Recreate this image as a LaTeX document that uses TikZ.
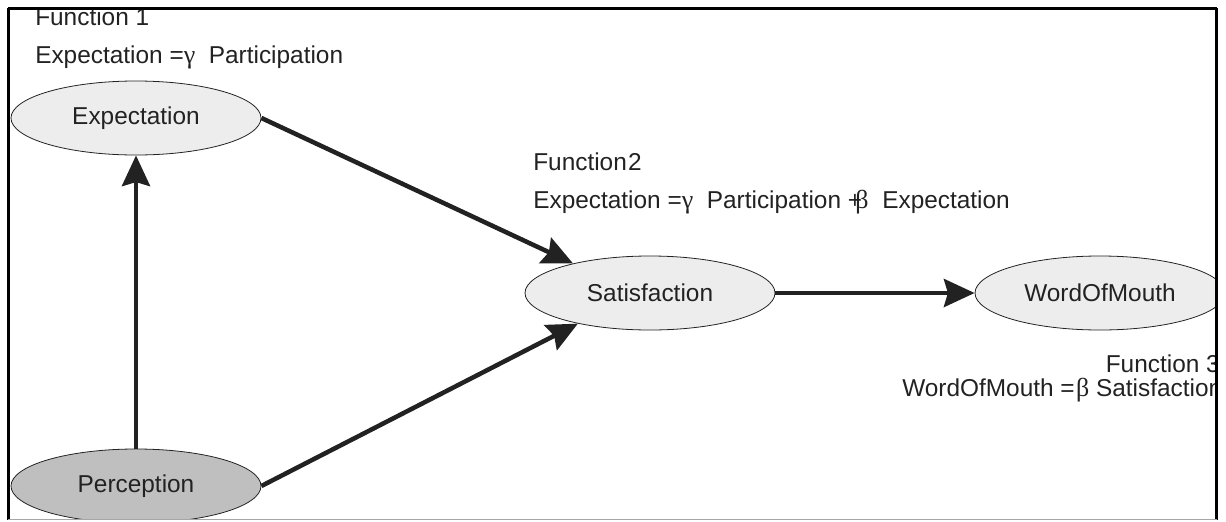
\documentclass[tikz,border=0pt]{standalone}
\usepackage{fontspec}
\setmainfont{Liberation Sans}
\newfontfamily\grk{Liberation Serif}
\usetikzlibrary{shapes.geometric,arrows.meta}
\definecolor{ink}{HTML}{222222}
\definecolor{lightfill}{HTML}{EDEDED}
\definecolor{darkfill}{HTML}{BFBFBF}
\newcommand{\gsym}[1]{{\grk\fontsize{19.5}{22}\selectfont #1}}
\tikzset{
  ell/.style={ellipse, draw=ink, line width=0.6pt, fill=lightfill, minimum width=187.5pt, minimum height=55.5pt, inner sep=0pt, text=ink, font=\fontsize{18.3}{21}\selectfont},
  darkell/.style={ell, fill=darkfill},
  lbl/.style={anchor=base west, inner sep=0pt, text=ink, font=\fontsize{18.3}{21}\selectfont},
  conn/.style={draw=ink, line width=3.4pt, -{Stealth[length=23pt, width=21pt, inset=3pt]}}
}
\begin{document}
\begin{tikzpicture}[x=0.75pt, y=-0.75pt]
\useasboundingbox (0,0) rectangle (1226,521);
\begin{scope}
\clip (8,8) rectangle (1216,519);
\node[ell] (E) at (136,118) {Expectation};
\node[darkell] (P) at (136,486) {Perception};
\node[ell] (S) at (650,293) {Satisfaction};
\node[ell] (W) at (1100,293) {WordOfMouth};

\node[lbl] (f1) at (35,25) {Function 1};
\node[lbl] (f1e) at (35,63) {Expectation =\gsym{γ}\ \ Participation};
\node[lbl] (f2) at (533,170) {Function\kern1pt2};
\node[lbl] (f2e) at (533,208) {Expectation =\gsym{γ}\ \ Participation +\kern-5pt\gsym{β}\ \ Expectation};
\node[anchor=base east, inner sep=0pt, text=ink, font=\fontsize{18.3}{21}\selectfont] (f3) at (1220,372) {Function 3};
\node[lbl] (f3e) at (902,396) {WordOfMouth =\kern1pt\gsym{β} Satisfaction};

\draw[conn] (P.north) -- (E.south);
\draw[conn] (E.east) -- (S.159);
\draw[conn] (P.east) -- (S.203);
\draw[conn] (S.east) -- (W.west);
\end{scope}
\draw[black, line width=1.6pt] (8,8.5) -- (1217,8.5);
\draw[black, line width=1.6pt] (8.5,8) -- (8.5,520);
\draw[black, line width=2.4pt] (1216.5,8) -- (1216.5,520);
\draw[gray!70, line width=1pt] (8,519.5) -- (1217,519.5);
\end{tikzpicture}
\end{document}
